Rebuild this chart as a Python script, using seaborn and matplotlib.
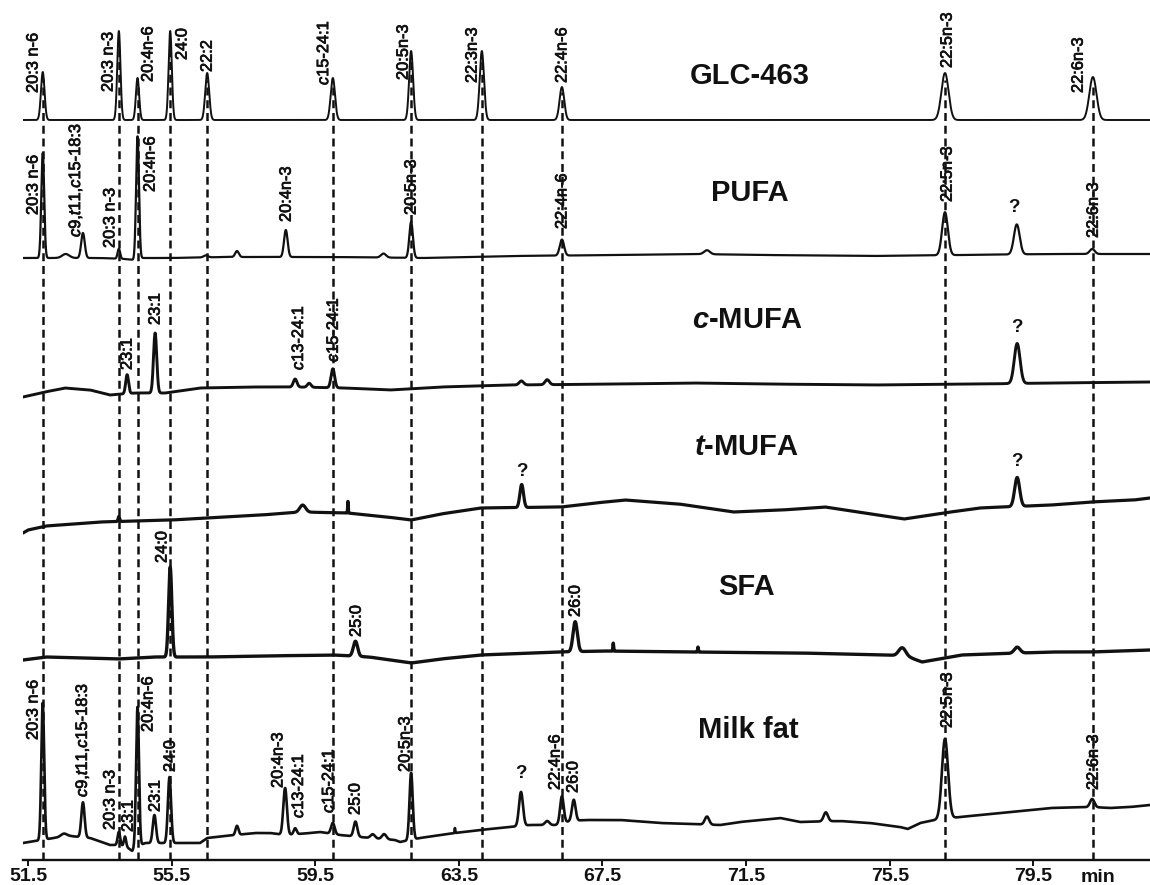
import numpy as np
import pandas as pd
import matplotlib
matplotlib.use("Agg")
import matplotlib.pyplot as plt
import matplotlib.patheffects as pe
import seaborn as sns

# ---------------------------------------------------------------- data
rt_ticks = [51.5, 55.5, 59.5, 63.5, 67.5, 71.5, 75.5, 79.5]
rt_tick_labels = ["51.5", "55.5", "59.5", "63.5", "67.5", "71.5", "75.5", "79.5"]

# GLC-463 reference standard: retention time (min), peak height, peak width (sigma, min)
glc_rt = [51.91, 54.03, 54.55, 55.46, 56.49, 59.99, 62.17, 64.14, 66.37, 77.04, 81.16]
glc_height = [48, 89, 42, 89, 47, 42, 69, 69, 33, 47, 43]
glc_width = [0.05, 0.045, 0.045, 0.045, 0.055, 0.06, 0.055, 0.06, 0.065, 0.1, 0.1]
glc_base_rt = [51.36, 82.75]
glc_base = [0, 0]
glc_labels = ["20:3 n-6", "20:3 n-3", "20:4n-6", "24:0", "22:2", r"$\mathit{c}$15-24:1",
              "20:5n-3", "22:3n-3", "22:4n-6", "22:5n-3", "22:6n-3"]
glc_label_rt = [51.64, 53.73, 54.84, 55.79, 56.49, 59.72, 61.95, 63.87, 66.37, 77.10, 80.75]

# PUFA fraction
pufa_rt = [51.91, 52.55, 53.03, 54.03, 54.55, 56.45, 57.32, 58.68, 61.40, 62.17, 66.37, 70.41, 77.04, 79.04, 81.14]
pufa_height = [105, 4, 25, 10, 123, 2, 6, 27, 4, 36, 16, 4, 43, 30, 5]
pufa_width = [0.04, 0.1, 0.05, 0.035, 0.04, 0.06, 0.05, 0.05, 0.07, 0.05, 0.06, 0.08, 0.08, 0.08, 0.07]
pufa_base_rt = [51.36, 53.5, 54.2, 54.45, 54.7, 55.5, 57.0, 60.0, 62.5, 65.0, 68.0, 70.0, 72.0, 75.0, 77.5, 80.0, 82.75]
pufa_base = [0, 0, -1, -2, 0, 0, 1, 1, 0, 2, 3, 4, 3, 2, 3, 4, 4]
pufa_labels = ["20:3 n-6", r"$\mathit{c}$9,$\mathit{t}$11,$\mathit{c}$15-18:3", "20:3 n-3", "20:4n-6",
               "20:4n-3", "20:5n-3", "22:4n-6", "22:5n-3", "?", "22:6n-3"]
pufa_label_rt = [51.64, 52.81, 53.78, 54.90, 58.69, 62.17, 66.37, 77.10, 78.97, 81.17]

# cis-MUFA fraction
cmufa_rt = [54.26, 55.04, 58.94, 59.33, 59.99, 65.24, 65.96, 79.05]
cmufa_height = [19, 60, 8, 4, 19, 4, 5, 40]
cmufa_width = [0.04, 0.045, 0.05, 0.05, 0.05, 0.06, 0.06, 0.08]
cmufa_base_rt = [51.36, 51.97, 52.53, 53.23, 53.78, 54.48, 55.32, 56.29, 57.68, 59.0, 60.33, 61.58,
                 63.0, 65.0, 68.0, 70.0, 72.0, 75.0, 78.0, 80.0, 82.75]
cmufa_base = [-2, 3, 7, 5, 0, 2, 2, 7, 8, 8, 7, 5, 8, 10, 11, 12, 11, 10, 11, 12, 13]
cmufa_labels = ["23:1", "23:1", r"$\mathit{c}$13-24:1", r"$\mathit{c}$15-24:1", "?"]
cmufa_label_rt = [54.26, 55.04, 59.02, 59.99, 79.05]

# trans-MUFA fraction
tmufa_rt = [54.03, 59.15, 60.41, 65.25, 79.05]
tmufa_height = [5, 7, 12, 23, 29]
tmufa_width = [0.02, 0.08, 0.008, 0.05, 0.07]
tmufa_base_rt = [51.36, 51.5, 52.0, 53.5, 55.5, 56.5, 58.0, 59.1, 60.4, 61.5, 62.17, 63.0, 64.1, 66.35,
                 67.3, 68.13, 69.63, 71.14, 72.5, 73.7, 75.0, 75.9, 77.0, 78.0, 80.0, 81.1, 82.3, 82.75]
tmufa_base = [-3, 0, 4, 8, 10, 12, 15, 18, 17, 13, 10, 16, 22, 23, 27, 30, 26, 18, 20, 23, 16, 11,
              17, 22, 25, 28, 30, 32]
tmufa_labels = ["?", "?"]
tmufa_label_rt = [65.26, 79.05]

# SFA fraction
sfa_rt = [55.46, 60.62, 66.74, 67.80, 70.16, 75.85, 79.05]
sfa_height = [90, 15, 30, 8, 5, 9, 6]
sfa_width = [0.045, 0.06, 0.06, 0.01, 0.01, 0.1, 0.08]
sfa_base_rt = [51.36, 52.0, 54.0, 55.0, 56.5, 58.0, 60.0, 61.0, 62.17, 63.0, 64.1, 66.35, 67.5,
               70.0, 73.0, 75.5, 76.1, 76.4, 77.5, 80.0, 81.1, 82.75]
sfa_base = [0, 3, 1, 3, 3, 4, 5, 3, -3, 1, 5, 8, 9, 8, 7, 5, 2, -2, 5, 8, 8, 10]
sfa_labels = ["24:0", "25:0", "26:0"]
sfa_label_rt = [55.23, 60.64, 66.74]

# Milk fat
milk_rt = [51.91, 52.5, 53.03, 54.03, 54.20, 54.55, 55.02, 55.44, 57.32, 58.66, 58.94, 59.99, 60.62,
           61.1, 61.42, 62.17, 63.39, 65.23, 65.96, 66.37, 66.70, 70.41, 73.72, 77.04, 81.14]
milk_height = [137, 3, 35, 13, 10, 140, 28, 66, 9, 47, 6, 11, 15, 4, 5, 67, 5, 34, 4, 27, 21, 8, 9, 80, 8]
milk_width = [0.04, 0.08, 0.045, 0.035, 0.03, 0.04, 0.045, 0.045, 0.04, 0.05, 0.04, 0.05, 0.05,
              0.06, 0.06, 0.045, 0.008, 0.055, 0.06, 0.05, 0.05, 0.06, 0.06, 0.085, 0.06]
milk_base_rt = [51.36, 52.39, 52.67, 53.23, 53.78, 54.03, 54.25, 54.40, 54.48, 54.76, 56.29, 56.49,
                57.0, 57.82, 58.24, 58.66, 59.36, 59.63, 60.19, 61.03, 61.72, 61.86, 62.42, 62.98,
                63.39, 64.09, 64.93, 65.48, 66.18, 66.60, 67.02, 68.0, 69.1, 70.78, 71.33, 72.45,
                73.0, 74.12, 74.95, 75.79, 76.0, 76.35, 76.76, 77.46, 78.02, 78.58, 79.97, 81.14,
                81.64, 82.2, 82.75]
milk_base = [0, 6, 7, 5, -2, -2, -4, -8, -5, 0, 0, 5, 7, 10, 10, 8, 10, 11, 8, 5, 3, 1, 5, 8, 10,
             13, 16, 18, 18, 22, 23, 23, 20, 18, 21, 25, 21, 22, 20, 16, 14, 20, 23, 26, 28, 30,
             35, 36, 35, 36, 38]
milk_labels = ["20:3 n-6", r"$\mathit{c}$9,$\mathit{t}$11,$\mathit{c}$15-18:3", "20:3 n-3", "23:1",
               "20:4n-6", "23:1", "24:0", "20:4n-3", r"$\mathit{c}$13-24:1", r"$\mathit{c}$15-24:1",
               "25:0", "20:5n-3", "?", "22:4n-6", "26:0", "22:5n-3", "22:6n-3"]
milk_label_rt = [51.64, 53.00, 53.78, 54.29, 54.84, 55.04, 55.46, 58.46, 59.02, 59.86, 60.61, 62.00,
                 65.23, 66.18, 66.68, 77.10, 81.17]

# ---------------------------------------------------------------- layout
# vertical stacking of the chromatograms and placement of their annotations
offsets = {"GLC-463": 740, "PUFA": 602, "c-MUFA": 465, "t-MUFA": 330, "SFA": 200, "Milk fat": 17}
label_y = {
    "GLC-463": [767, 768, 778, 800, 788, 775, 780, 777, 777, 792, 767],
    "PUFA": [645, 623, 612, 668, 638, 645, 631, 658, 653, 622],
    "c-MUFA": [490, 535, 490, 498, 532],
    "t-MUFA": [388, 398],
    "SFA": [297, 223, 243],
    "Milk fat": [120, 63, 30, 28, 128, 48, 88, 72, 42, 47, 45, 88, 87, 70, 67, 132, 70],
}
title_pos = {
    "GLC-463": (71.61, 784), "PUFA": (71.61, 667), "c-MUFA": (71.55, 540),
    "t-MUFA": (71.5, 413), "SFA": (71.5, 273), "Milk fat": (71.55, 130),
}
title_text = {
    "GLC-463": "GLC-463", "PUFA": "PUFA", "c-MUFA": r"$\mathbfit{c}$-MUFA",
    "t-MUFA": r"$\mathbfit{t}$-MUFA", "SFA": "SFA", "Milk fat": "Milk fat",
}

traces = {
    "GLC-463": (glc_base_rt, glc_base, glc_rt, glc_height, glc_width, glc_labels, glc_label_rt),
    "PUFA": (pufa_base_rt, pufa_base, pufa_rt, pufa_height, pufa_width, pufa_labels, pufa_label_rt),
    "c-MUFA": (cmufa_base_rt, cmufa_base, cmufa_rt, cmufa_height, cmufa_width, cmufa_labels, cmufa_label_rt),
    "t-MUFA": (tmufa_base_rt, tmufa_base, tmufa_rt, tmufa_height, tmufa_width, tmufa_labels, tmufa_label_rt),
    "SFA": (sfa_base_rt, sfa_base, sfa_rt, sfa_height, sfa_width, sfa_labels, sfa_label_rt),
    "Milk fat": (milk_base_rt, milk_base, milk_rt, milk_height, milk_width, milk_labels, milk_label_rt),
}
line_width = {"GLC-463": 1.4, "PUFA": 1.6, "c-MUFA": 2.1, "t-MUFA": 2.3, "SFA": 2.4, "Milk fat": 1.9}

# ---------------------------------------------------------------- style
sns.set_theme(style="white")
plt.rcParams["font.family"] = ["Liberation Sans", "DejaVu Sans"]
plt.rcParams["mathtext.fontset"] = "custom"
plt.rcParams["mathtext.rm"] = "Liberation Sans"
plt.rcParams["mathtext.it"] = "Liberation Sans:italic"
plt.rcParams["mathtext.bf"] = "Liberation Sans:bold"
if "mathtext.bfit" in plt.rcParams:
    plt.rcParams["mathtext.bfit"] = "Liberation Sans:italic:bold"

INK = "#111111"
X0, X1 = 51.36, 82.75
heavy = [pe.withStroke(linewidth=0.55, foreground=INK)]

fig = plt.figure(figsize=(11.5, 8.85), dpi=100)
ax = fig.add_axes([23 / 1150, 25 / 885, 1127 / 1150, 860 / 885])
ax.set_xlim(X0, X1)
ax.set_ylim(0, 860)

grid = np.arange(X0, X1, 0.004)


def chromatogram(base_rt, base, rt, height, width):
    signal = np.interp(grid, base_rt, base)
    for r, h, w in zip(rt, height, width):
        signal = signal + h * np.exp(-0.5 * ((grid - r) / w) ** 2)
    return signal


# dashed guides at the retention times of the reference standard
for r, h in zip(glc_rt, glc_height):
    ax.plot([r, r], [0, offsets["GLC-463"] + 0.85 * h], color=INK, lw=1.8,
            linestyle=(0, (3.2, 1.9)), zorder=1)

for name, (brt, bval, rt, hgt, wid, labels, lrt) in traces.items():
    y = chromatogram(brt, bval, rt, hgt, wid) + offsets[name]
    df = pd.DataFrame({"rt": grid, "signal": y})
    sns.lineplot(data=df, x="rt", y="signal", ax=ax, color=INK, lw=line_width[name],
                 estimator=None, sort=False, zorder=3)
    for text, r, ly in zip(labels, lrt, label_y[name]):
        if text == "?":
            ax.text(r, ly, "?", ha="center", va="center", fontsize=13.5,
                    fontweight="bold", color=INK, zorder=4)
        else:
            ax.text(r, ly, text, rotation=90, ha="center", va="bottom",
                    fontsize=11.8, color=INK, zorder=4, path_effects=heavy)
    tx, ty = title_pos[name]
    ax.text(tx, ty, title_text[name], ha="center", va="center", fontsize=21,
            fontweight="bold", color=INK, zorder=4)

# axes decoration
for side in ("left", "right", "top"):
    ax.spines[side].set_visible(False)
ax.spines["bottom"].set_linewidth(1.7)
ax.spines["bottom"].set_color(INK)
ax.set_yticks([])
ax.set_xticks(rt_ticks)
ax.set_xticklabels(rt_tick_labels, fontsize=14, fontweight="bold", color=INK)
ax.tick_params(axis="x", direction="out", length=4, width=1.4, pad=2, colors=INK, bottom=True)
ax.set_xlabel("")
ax.set_ylabel("")
ax.text(81.3, -18, "min", ha="center", va="center", fontsize=14, fontweight="bold",
        color=INK, clip_on=False)

fig.savefig("out.png", dpi=100)
